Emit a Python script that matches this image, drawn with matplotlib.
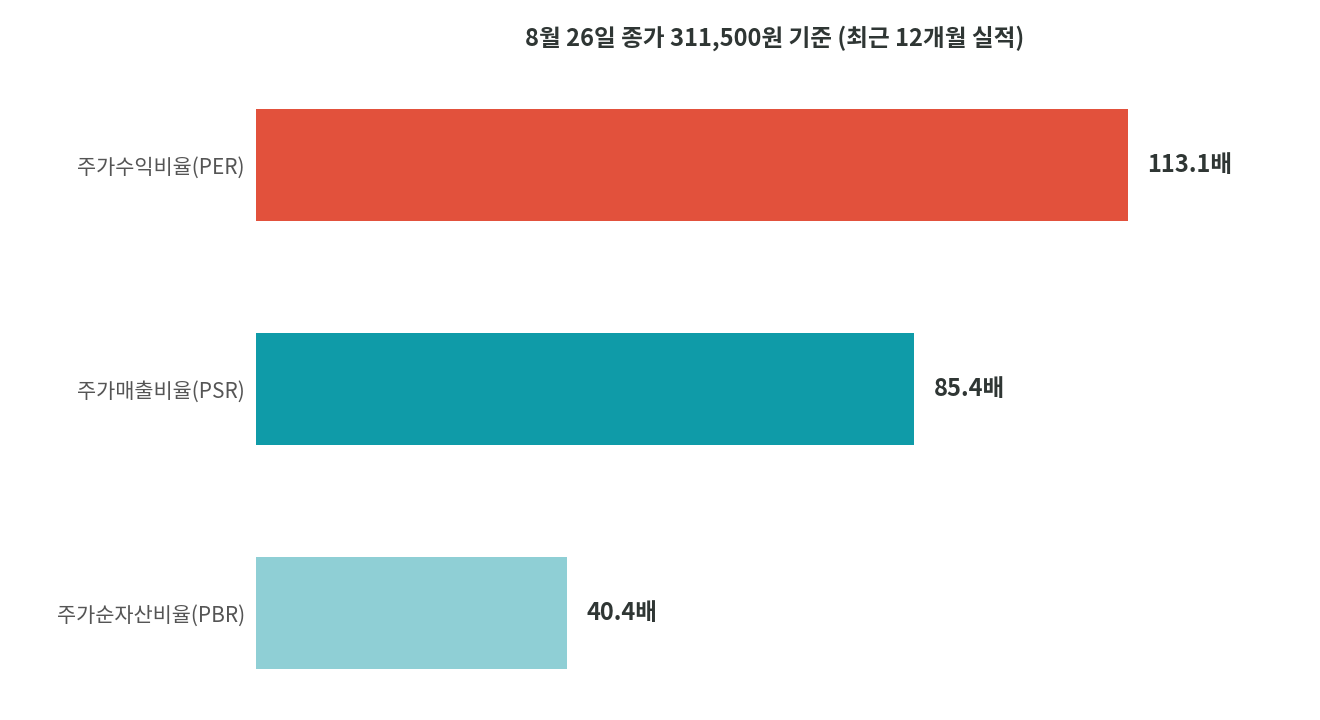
import matplotlib.pyplot as plt

plt.rcParams['font.family'] = ['Noto Sans CJK KR', 'DejaVu Sans']

categories = ["주가수익비율(PER)", "주가매출비율(PSR)", "주가순자산비율(PBR)"]
values = [113.1, 85.4, 40.4]
value_labels = ["113.1배", "85.4배", "40.4배"]
colors = ["#E2513C", "#0F9BA8", "#8FCFD5"]
title = "8월 26일 종가 311,500원 기준 (최근 12개월 실적)"

fig = plt.figure(figsize=(13.2, 7.2), dpi=100)
# axes spans x 256..1300 px, y 53..714 px
ax = fig.add_axes([256 / 1320, 1 - 714 / 720, 1044 / 1320, (714 - 53) / 720])
ypos = range(len(values))
ax.barh(ypos, values, height=0.5, color=colors)
ax.set_xlim(0, 1044 / (872 / 113.1))
ax.set_ylim(2 + (714 - 613) / 224, -0.5)

for y, v, lab in zip(ypos, values, value_labels):
    ax.text(v + 2.5, y, lab, va="center", ha="left", fontsize=17,
            fontweight="bold", color="#2F3634")

ax.set_yticks(list(ypos))
ax.set_yticklabels(categories, fontsize=15, color="#555555")
ax.tick_params(axis="y", length=0, pad=8)
ax.set_xticks([])
for s in ax.spines.values():
    s.set_visible(False)

fig.text(775 / 1320, 1 - 38 / 720, title, ha="center", va="center",
         fontsize=17, fontweight="bold", color="#2F3634")

fig.savefig("out.png", dpi=100)
